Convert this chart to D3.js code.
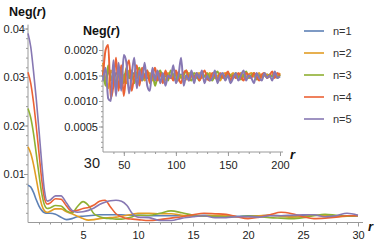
<!DOCTYPE html>
<html>
<head>
<meta charset="utf-8">
<script src="https://cdn.jsdelivr.net/npm/d3@7"></script>
<style>
  body { margin: 0; background: #fff; }
  svg { font-family: "Liberation Sans", Arial, sans-serif; }
  .tick text { fill: #222; font-size: 11px; }
</style>
</head>
<body>
<svg id="chart" width="380" height="244"></svg>
<script>
// series names and colours (Mathematica default palette)
const names = ['n=1', 'n=2', 'n=3', 'n=4', 'n=5'];
const colors = ['#5e81b5', '#e19c24', '#8fb032', '#eb6235', '#8778b3'];

// main plot, r from 0 to 30
const rMain = [0, 0.25, 0.5, 0.75, 1, 1.25, 1.5, 1.75, 2, 2.5, 3, 3.5, 4, 4.5, 5, 5.5, 6, 6.5, 7, 7.5, 8, 8.5, 9, 9.5, 10,
  11, 12, 13, 14, 15, 16, 17, 18, 19, 20, 21, 22, 23, 24, 25, 26, 27, 28, 29, 30];
const neg1 = [0.0077, 0.0073, 0.0062, 0.0047, 0.0034, 0.0025, 0.0020, 0.0019, 0.0019, 0.0017, 0.0011, 0.0006, 0.0008, 0.0012, 0.0013, 0.0014, 0.0015, 0.0016, 0.0016, 0.0016, 0.0016, 0.0016, 0.0015, 0.0015, 0.0015,
  0.0014, 0.0014, 0.0014, 0.0014, 0.0014, 0.0015, 0.0014, 0.0014, 0.0013, 0.0014, 0.0014, 0.0015, 0.0014, 0.0013, 0.0014, 0.0015, 0.0014, 0.0014, 0.0013, 0.0014];
const neg2 = [0.0156, 0.0143, 0.0120, 0.0090, 0.0060, 0.0036, 0.0024, 0.0021, 0.0023, 0.0028, 0.0028, 0.0022, 0.0018, 0.0013, 0.0008, 0.0005, 0.0006, 0.0008, 0.0009, 0.0010, 0.0011, 0.0013, 0.0015, 0.0017, 0.0019,
  0.0019, 0.0018, 0.0018, 0.0015, 0.0013, 0.0014, 0.0015, 0.0014, 0.0012, 0.0012, 0.0014, 0.0015, 0.0013, 0.0011, 0.0012, 0.0015, 0.0014, 0.0012, 0.0013, 0.0015];
const neg3 = [0.0235, 0.0216, 0.0184, 0.0142, 0.0099, 0.0060, 0.0036, 0.0029, 0.0030, 0.0035, 0.0034, 0.0024, 0.0020, 0.0033, 0.0043, 0.0035, 0.0018, 0.0012, 0.0009, 0.0008, 0.0007, 0.0007, 0.0009, 0.0012, 0.0015,
  0.0015, 0.0019, 0.0024, 0.0020, 0.0015, 0.0013, 0.0013, 0.0012, 0.0012, 0.0013, 0.0012, 0.0010, 0.0009, 0.0008, 0.0010, 0.0014, 0.0017, 0.0015, 0.0013, 0.0014];
const neg4 = [0.0310, 0.0287, 0.0248, 0.0198, 0.0143, 0.0088, 0.0050, 0.0038, 0.0040, 0.0049, 0.0048, 0.0034, 0.0023, 0.0025, 0.0029, 0.0031, 0.0036, 0.0044, 0.0046, 0.0032, 0.0018, 0.0012, 0.0008, 0.0007, 0.0006,
  0.0004, 0.0006, 0.0009, 0.0012, 0.0016, 0.0019, 0.0018, 0.0017, 0.0012, 0.0008, 0.0011, 0.0016, 0.0021, 0.0018, 0.0012, 0.0008, 0.0009, 0.0011, 0.0014, 0.0014];
const neg5 = [0.0390, 0.0362, 0.0312, 0.0255, 0.0190, 0.0122, 0.0065, 0.0044, 0.0046, 0.0055, 0.0055, 0.0040, 0.0025, 0.0021, 0.0022, 0.0025, 0.0030, 0.0037, 0.0042, 0.0045, 0.0046, 0.0044, 0.0035, 0.0018, 0.0011,
  0.0010, 0.0004, 0.0004, 0.0009, 0.0012, 0.0014, 0.0010, 0.0010, 0.0012, 0.0012, 0.0011, 0.0014, 0.0014, 0.0015, 0.0016, 0.0016, 0.0012, 0.0014, 0.0019, 0.0015];
const mainSeries = [neg1, neg2, neg3, neg4, neg5];

// inset, r from 30 to 200
const rInset = [30, 32.5, 35, 37.5, 40, 42.5, 45, 47.5, 50, 52.5, 55, 57.5, 60, 62.5, 65, 67.5, 70, 72.5, 75, 77.5,
  80, 82.5, 85, 87.5, 90, 92.5, 95, 97.5, 100, 102.5, 105, 107.5, 110, 112.5, 115, 117.5, 120, 122.5, 125, 127.5,
  130, 132.5, 135, 137.5, 140, 142.5, 145, 147.5, 150, 152.5, 155, 157.5, 160, 162.5, 165, 167.5, 170, 172.5, 175, 177.5,
  180, 182.5, 185, 187.5, 190, 192.5, 195, 197.5, 200];
const ins1 = [0.00150, 0.00135, 0.00160, 0.00145, 0.00140, 0.00155, 0.00150, 0.00140, 0.00150, 0.00155, 0.00145, 0.00150, 0.00155, 0.00145, 0.00150, 0.00148, 0.00152, 0.00145, 0.00150, 0.00155,
  0.00148, 0.00145, 0.00150, 0.00152, 0.00148, 0.00150, 0.00145, 0.00152, 0.00150, 0.00148, 0.00152, 0.00145, 0.00150, 0.00152, 0.00148, 0.00150, 0.00145, 0.00152, 0.00150, 0.00148,
  0.00150, 0.00152, 0.00148, 0.00150, 0.00145, 0.00150, 0.00152, 0.00148, 0.00150, 0.00148, 0.00152, 0.00150, 0.00148, 0.00150, 0.00152, 0.00148, 0.00150, 0.00150, 0.00148, 0.00152,
  0.00150, 0.00148, 0.00150, 0.00152, 0.00148, 0.00150, 0.00150, 0.00148, 0.00150];
const ins2 = [0.00175, 0.00140, 0.00125, 0.00160, 0.00150, 0.00135, 0.00155, 0.00165, 0.00140, 0.00135, 0.00160, 0.00150, 0.00140, 0.00150, 0.00145, 0.00160, 0.00140, 0.00150, 0.00155, 0.00140,
  0.00150, 0.00145, 0.00155, 0.00150, 0.00140, 0.00155, 0.00145, 0.00150, 0.00155, 0.00140, 0.00150, 0.00148, 0.00142, 0.00155, 0.00150, 0.00145, 0.00152, 0.00155, 0.00145, 0.00150,
  0.00142, 0.00155, 0.00150, 0.00145, 0.00150, 0.00140, 0.00152, 0.00155, 0.00148, 0.00150, 0.00155, 0.00145, 0.00150, 0.00155, 0.00148, 0.00145, 0.00152, 0.00155, 0.00148, 0.00150,
  0.00155, 0.00145, 0.00150, 0.00152, 0.00148, 0.00150, 0.00155, 0.00150, 0.00155];
const ins3 = [0.00160, 0.00130, 0.00170, 0.00140, 0.00155, 0.00125, 0.00165, 0.00145, 0.00135, 0.00165, 0.00145, 0.00160, 0.00135, 0.00155, 0.00165, 0.00140, 0.00150, 0.00160, 0.00140, 0.00155,
  0.00130, 0.00150, 0.00160, 0.00145, 0.00155, 0.00140, 0.00160, 0.00150, 0.00140, 0.00155, 0.00145, 0.00150, 0.00160, 0.00145, 0.00140, 0.00155, 0.00150, 0.00140, 0.00155, 0.00148,
  0.00155, 0.00145, 0.00140, 0.00152, 0.00158, 0.00145, 0.00150, 0.00142, 0.00155, 0.00150, 0.00145, 0.00155, 0.00148, 0.00142, 0.00150, 0.00158, 0.00145, 0.00150, 0.00155, 0.00142,
  0.00150, 0.00148, 0.00155, 0.00145, 0.00152, 0.00148, 0.00150, 0.00145, 0.00152];
const ins4 = [0.00150, 0.00200, 0.00210, 0.00105, 0.00130, 0.00185, 0.00120, 0.00170, 0.00110, 0.00160, 0.00180, 0.00120, 0.00150, 0.00170, 0.00130, 0.00165, 0.00145, 0.00160, 0.00135, 0.00150,
  0.00165, 0.00140, 0.00155, 0.00135, 0.00160, 0.00145, 0.00150, 0.00140, 0.00160, 0.00145, 0.00135, 0.00155, 0.00160, 0.00140, 0.00150, 0.00145, 0.00155, 0.00140, 0.00150, 0.00160,
  0.00145, 0.00140, 0.00155, 0.00150, 0.00140, 0.00155, 0.00145, 0.00150, 0.00158, 0.00140, 0.00150, 0.00145, 0.00155, 0.00148, 0.00140, 0.00155, 0.00150, 0.00145, 0.00155, 0.00148,
  0.00140, 0.00152, 0.00155, 0.00145, 0.00150, 0.00158, 0.00145, 0.00155, 0.00150];
const ins5 = [0.00140, 0.00165, 0.00105, 0.00100, 0.00180, 0.00110, 0.00175, 0.00120, 0.00190, 0.00175, 0.00115, 0.00150, 0.00185, 0.00125, 0.00160, 0.00140, 0.00175, 0.00130, 0.00120, 0.00165,
  0.00140, 0.00160, 0.00135, 0.00155, 0.00130, 0.00150, 0.00145, 0.00170, 0.00135, 0.00150, 0.00185, 0.00130, 0.00150, 0.00140, 0.00160, 0.00135, 0.00155, 0.00145, 0.00160, 0.00135,
  0.00150, 0.00140, 0.00145, 0.00160, 0.00135, 0.00150, 0.00155, 0.00140, 0.00150, 0.00135, 0.00145, 0.00155, 0.00140, 0.00150, 0.00160, 0.00140, 0.00150, 0.00145, 0.00135, 0.00155,
  0.00145, 0.00140, 0.00155, 0.00145, 0.00150, 0.00140, 0.00158, 0.00145, 0.00148];
const insetSeries = [ins1, ins2, ins3, ins4, ins5];

// tick values
const mainXTicks = [5, 10, 15, 20, 25, 30];
const mainYTicks = [0.01, 0.02, 0.03, 0.04];
const insetXTicks = [50, 100, 150, 200];
const insetYTicks = [0.0005, 0.0010, 0.0015, 0.0020];

const svg = d3.select('#chart');
const axisColor = '#9a9a9a';

// ---- main plot
const x = d3.scaleLinear().domain([0, 30]).range([28, 358]);
const y = d3.scaleLinear().domain([0, 0.04]).range([222.5, 28.5]);

function styleAxis(g) {
  g.selectAll('.domain').attr('stroke', axisColor);
  g.selectAll('.tick line').attr('stroke', axisColor);
}

// minor ticks first, then the major ones
svg.append('g')
  .attr('transform', `translate(0,${y(0)})`)
  .call(d3.axisBottom(x).tickValues(d3.range(1, 31)).tickSize(2).tickSizeOuter(0).tickFormat(''))
  .call(styleAxis)
  .select('.domain').remove();
svg.append('g')
  .attr('transform', `translate(0,${y(0)})`)
  .call(d3.axisBottom(x).tickValues(mainXTicks).tickSize(4).tickSizeOuter(0).tickFormat(d3.format('d')))
  .call(styleAxis)
  .call(g => g.select('.domain').attr('d', `M${x(0)},0H${x(30) + 5}`))
  .call(g => g.selectAll('.tick text').attr('dy', '0.9em'));

svg.append('g')
  .attr('transform', `translate(${x(0)},0)`)
  .call(d3.axisLeft(y).tickValues(d3.range(0.002, 0.0401, 0.002)).tickSize(2).tickSizeOuter(0).tickFormat(''))
  .call(styleAxis)
  .select('.domain').remove();
svg.append('g')
  .attr('transform', `translate(${x(0)},0)`)
  .call(d3.axisLeft(y).tickValues(mainYTicks).tickSize(4).tickSizeOuter(0).tickFormat(d3.format('.2f')))
  .call(styleAxis)
  .call(g => g.select('.domain').attr('d', `M0,${y(0)}V${y(0.0408)}`))
  .call(g => g.selectAll('.tick text').attr('x', -3).attr('dy', '0.35em'));

const mainLine = d3.line()
  .x((d, i) => x(rMain[i]))
  .y(d => y(d))
  .curve(d3.curveMonotoneX);

svg.append('g').selectAll('path')
  .data(mainSeries)
  .join('path')
  .attr('d', mainLine)
  .attr('fill', 'none')
  .attr('stroke', (d, i) => colors[i])
  .attr('stroke-width', 1.6)
  .attr('stroke-linejoin', 'round');

svg.append('text')
  .attr('x', 9).attr('y', 16)
  .attr('font-size', 12.5).attr('font-weight', 'bold').attr('fill', '#111')
  .html('Neg(<tspan font-style="italic">r</tspan>)');
svg.append('text')
  .attr('x', 368).attr('y', 231)
  .attr('font-size', 13).attr('font-weight', 'bold').attr('font-style', 'italic').attr('fill', '#111')
  .text('r');

// ---- inset
const xi = d3.scaleLinear().domain([30, 200]).range([103, 280]);
const yi = d3.scaleLinear().domain([0, 0.0020]).range([152, 50]);

svg.append('g')
  .attr('transform', `translate(0,${yi(0)})`)
  .call(d3.axisBottom(xi).tickValues(d3.range(40, 201, 10)).tickSize(2).tickSizeOuter(0).tickFormat(''))
  .call(styleAxis)
  .select('.domain').remove();
svg.append('g')
  .attr('transform', `translate(0,${yi(0)})`)
  .call(d3.axisBottom(xi).tickValues(insetXTicks).tickSize(4).tickSizeOuter(0).tickFormat(d3.format('d')))
  .call(styleAxis)
  .call(g => g.select('.domain').attr('d', `M${xi(30)},0H${xi(200) + 3}`))
  .call(g => g.selectAll('.tick text').attr('dy', '0.9em'));

svg.append('g')
  .attr('transform', `translate(${xi(30)},0)`)
  .call(d3.axisLeft(yi).tickValues(d3.range(0.0001, 0.00205, 0.0001)).tickSize(2).tickSizeOuter(0).tickFormat(''))
  .call(styleAxis)
  .select('.domain').remove();
svg.append('g')
  .attr('transform', `translate(${xi(30)},0)`)
  .call(d3.axisLeft(yi).tickValues(insetYTicks).tickSize(4).tickSizeOuter(0).tickFormat(d3.format('.4f')))
  .call(styleAxis)
  .call(g => g.select('.domain').attr('d', `M0,${yi(0)}V${yi(0.00219)}`))
  .call(g => g.selectAll('.tick text').attr('x', -5).attr('dy', '0.35em'));

// origin label of the inset
svg.append('text')
  .attr('x', xi(30) - 3).attr('y', 168)
  .attr('text-anchor', 'end')
  .attr('font-size', 14.5).attr('fill', '#222')
  .text('30');

const insetLine = d3.line()
  .x((d, i) => xi(rInset[i]))
  .y(d => yi(d))
  .curve(d3.curveMonotoneX);

svg.append('g').selectAll('path')
  .data(insetSeries)
  .join('path')
  .attr('d', insetLine)
  .attr('fill', 'none')
  .attr('stroke', (d, i) => colors[i])
  .attr('stroke-width', 2)
  .attr('stroke-linejoin', 'round');

svg.append('text')
  .attr('x', 83).attr('y', 35)
  .attr('font-size', 12.5).attr('font-weight', 'bold').attr('fill', '#111')
  .html('Neg(<tspan font-style="italic">r</tspan>)');
svg.append('text')
  .attr('x', 290).attr('y', 159)
  .attr('font-size', 13).attr('font-weight', 'bold').attr('font-style', 'italic').attr('fill', '#111')
  .text('r');

// ---- legend
const legend = svg.append('g').selectAll('g')
  .data(names)
  .join('g')
  .attr('transform', (d, i) => `translate(304,${31 + i * 22})`);
legend.append('line')
  .attr('x1', 0).attr('x2', 20)
  .attr('stroke', (d, i) => colors[i])
  .attr('stroke-width', 1.6);
legend.append('text')
  .attr('x', 29).attr('dy', '0.35em')
  .attr('font-size', 11).attr('fill', '#333')
  .text(d => d);
</script>
</body>
</html>
